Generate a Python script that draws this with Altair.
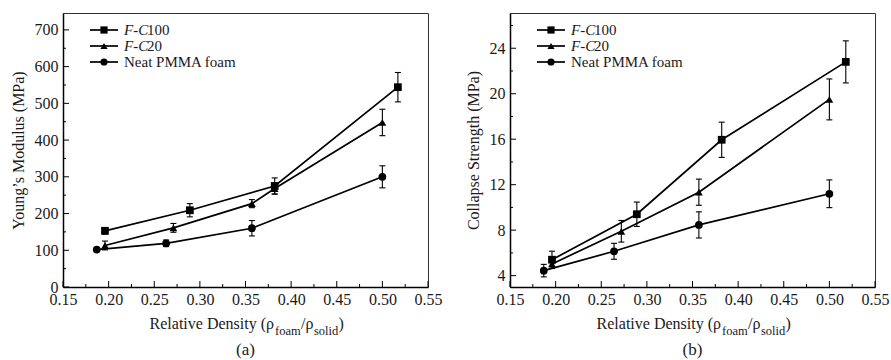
import altair as alt
import pandas as pd

FONT = "Liberation Serif"
INK = "#1a1a1a"

series_names = ["F-C100", "F-C20", "Neat PMMA foam"]
series_shapes = ["square", "triangle-up", "circle"]

# ---------- Panel (a): Young's modulus (MPa) ----------
a_fc100_x = [0.196, 0.289, 0.382, 0.517]
a_fc100_y = [153, 209, 275, 544]
a_fc100_e = [9, 18, 22, 40]

a_fc20_x = [0.196, 0.271, 0.357, 0.382, 0.500]
a_fc20_y = [113, 161, 227, 268, 448]
a_fc20_e = [12, 12, 11, 15, 36]

a_neat_x = [0.187, 0.263, 0.357, 0.500]
a_neat_y = [102, 119, 160, 300]
a_neat_e = [4, 9, 21, 30]

# ---------- Panel (b): Collapse strength (MPa) ----------
b_fc100_x = [0.196, 0.289, 0.382, 0.518]
b_fc100_y = [5.4, 9.4, 15.95, 22.8]
b_fc100_e = [0.75, 1.07, 1.55, 1.85]

b_fc20_x = [0.196, 0.272, 0.357, 0.500]
b_fc20_y = [5.03, 7.9, 11.34, 19.5]
b_fc20_e = [0.4, 0.95, 1.15, 1.8]

b_neat_x = [0.187, 0.264, 0.357, 0.500]
b_neat_y = [4.44, 6.14, 8.46, 11.2]
b_neat_e = [0.55, 0.7, 1.15, 1.22]

x_major = [0.15, 0.20, 0.25, 0.30, 0.35, 0.40, 0.45, 0.50, 0.55]
x_minor = [0.175, 0.225, 0.275, 0.325, 0.375, 0.425, 0.475, 0.525]

a_y_major = [0, 100, 200, 300, 400, 500, 600, 700]
a_y_minor = [50, 150, 250, 350, 450, 550, 650]
a_y_domain = [0, 746]

b_y_major = [4, 8, 12, 16, 20, 24]
b_y_minor = [6, 10, 14, 18, 22, 26]
b_y_domain = [3, 27.1]

W, H = 365, 274


def make_df(groups):
    rows = []
    for name, xs, ys, es in groups:
        for x, y, e in zip(xs, ys, es):
            rows.append({"series": name, "x": x, "y": y, "lo": y - e, "hi": y + e})
    return pd.DataFrame(rows)


df_a = make_df([
    ("F-C100", a_fc100_x, a_fc100_y, a_fc100_e),
    ("F-C20", a_fc20_x, a_fc20_y, a_fc20_e),
    ("Neat PMMA foam", a_neat_x, a_neat_y, a_neat_e),
])
df_b = make_df([
    ("F-C100", b_fc100_x, b_fc100_y, b_fc100_e),
    ("F-C20", b_fc20_x, b_fc20_y, b_fc20_e),
    ("Neat PMMA foam", b_neat_x, b_neat_y, b_neat_e),
])

ONE = alt.Data(values=[{}])


def txt(text, x, y, size=15, align="left", italic=False, baseline="alphabetic"):
    kw = dict(font=FONT, fontSize=size, align=align, baseline=baseline, color=INK)
    if italic:
        kw["fontStyle"] = "italic"
    return alt.Chart(ONE).mark_text(**kw).encode(
        x=alt.value(x), y=alt.value(y), text=alt.value(text)
    )


def panel(df, ydomain, ymajor, yminor, ytitle, letter):
    xsc = alt.Scale(domain=[0.15, 0.55], nice=False, zero=False)
    ysc = alt.Scale(domain=ydomain, nice=False, zero=False)
    xaxis = alt.Axis(values=x_major, format=".2f", ticks=False, grid=False,
                     domainColor="black", domainWidth=1.5,
                     labelFont=FONT, labelFontSize=16, labelColor=INK,
                     labelPadding=4, labelFlush=False, labelOverlap=False, title=None)
    yaxis = alt.Axis(values=ymajor, format="d", ticks=False, grid=False,
                     domainColor="black", domainWidth=1.5,
                     labelFont=FONT, labelFontSize=16, labelColor=INK,
                     labelPadding=5, labelFlush=False, labelOverlap=False,
                     title=ytitle, titleFont=FONT, titleFontSize=16,
                     titleFontWeight="normal", titleColor=INK, titlePadding=8)

    def X(f):
        return alt.X(f, scale=xsc, axis=xaxis)

    def Y(f):
        return alt.Y(f, scale=ysc, axis=yaxis)

    base = alt.Chart(df)
    lines = base.mark_line(color="black", strokeWidth=1.7).encode(
        x=X("x:Q"), y=Y("y:Q"), detail="series:N", order="x:Q",
    )
    bars = base.mark_rule(color="black", strokeWidth=1.1).encode(
        x=X("x:Q"), y=Y("lo:Q"), y2="hi:Q",
    )
    cap_lo = base.mark_rule(color="black", strokeWidth=1.1, xOffset=-3, x2Offset=3).encode(
        x=X("x:Q"), x2="x:Q", y=Y("lo:Q"),
    )
    cap_hi = base.mark_rule(color="black", strokeWidth=1.1, xOffset=-3, x2Offset=3).encode(
        x=X("x:Q"), x2="x:Q", y=Y("hi:Q"),
    )
    pts = base.mark_point(filled=True, color="black", opacity=1, size=60).encode(
        x=X("x:Q"), y=Y("y:Q"),
        shape=alt.Shape("series:N", scale=alt.Scale(domain=series_names, range=series_shapes), legend=None),
    )

    # inward ticks
    xmaj = alt.Chart(pd.DataFrame({"x": x_major})).mark_rule(color="black", strokeWidth=1).encode(
        x=X("x:Q"), y=alt.value(H), y2=alt.value(H - 6))
    xmin = alt.Chart(pd.DataFrame({"x": x_minor})).mark_rule(color="black", strokeWidth=1).encode(
        x=X("x:Q"), y=alt.value(H), y2=alt.value(H - 3))
    ymaj = alt.Chart(pd.DataFrame({"y": ymajor})).mark_rule(color="black", strokeWidth=1).encode(
        y=Y("y:Q"), x=alt.value(0), x2=alt.value(6))
    ymin = alt.Chart(pd.DataFrame({"y": yminor})).mark_rule(color="black", strokeWidth=1).encode(
        y=Y("y:Q"), x=alt.value(0), x2=alt.value(3))

    # legend (drawn by hand so that "F-C" can be italic)
    leg = []
    leg_y = [17, 33, 49]
    for name, shp, ly in zip(series_names, series_shapes, leg_y):
        leg.append(alt.Chart(ONE).mark_rule(color="black", strokeWidth=1.7).encode(
            x=alt.value(27), x2=alt.value(55), y=alt.value(ly)))
        leg.append(alt.Chart(ONE).mark_point(filled=True, color="black", opacity=1, size=52).encode(
            x=alt.value(41), y=alt.value(ly), shape=alt.value(shp)))
        if name.startswith("F-C"):
            leg.append(txt("F-C", 61, ly + 5, italic=True))
            leg.append(txt(name[3:], 84, ly + 5))
        else:
            leg.append(txt(name, 61, ly + 5))

    # x-axis title with subscripts and panel letter
    R = 211
    title = [
        txt("Relative Density (\u03c1", R, H + 42, size=16, align="right"),
        txt("foam", R + 1, H + 48, size=12.5),
        txt("/\u03c1", R + 27, H + 42, size=16),
        txt("solid", R + 40, H + 48, size=12.5),
        txt(")", R + 64.5, H + 42, size=16),
        txt("(" + letter + ")", W / 2, H + 68, size=17, align="center"),
    ]

    return alt.layer(lines, xmin, xmaj, ymin, ymaj, bars, cap_lo, cap_hi, pts, *leg, *title).properties(
        width=W, height=H)


pa = panel(df_a, a_y_domain, a_y_major, a_y_minor, "Young\u2019s Modulus (MPa)", "a")
pb = panel(df_b, b_y_domain, b_y_major, b_y_minor, "Collapse Strength (MPa)", "b")

chart = alt.hconcat(pa, pb, spacing=82, bounds="flush").properties(
    padding={"left": 9, "top": 12, "right": 0, "bottom": 0}
).configure_view(stroke="#333", strokeWidth=1)

chart.save("out.html", embed_options={"renderer": "svg", "actions": False})
